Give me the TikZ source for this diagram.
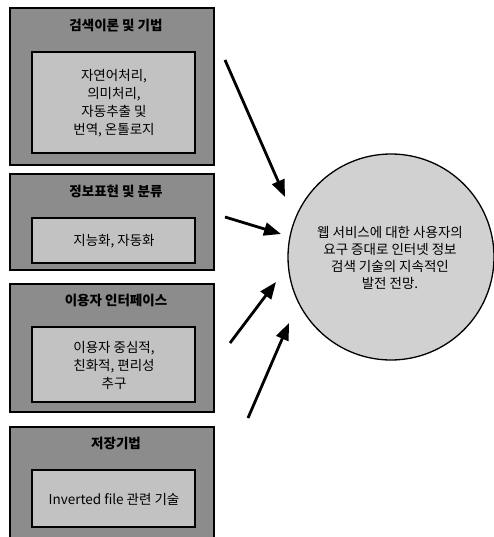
\documentclass[tikz,border=0pt]{standalone}
\usepackage{fontspec}
\setmainfont{Noto Sans CJK KR}
\usetikzlibrary{arrows.meta}
\begin{document}
\begin{tikzpicture}[x=1pt,y=-1pt,
  outerbox/.style={draw=black,line width=1.4pt,fill=black!45},
  innerbox/.style={draw=black,line width=1.3pt,fill=black!24},
  ttl/.style={font=\fontsize{13.5}{15}\selectfont\bfseries,inner sep=0pt},
  txt/.style={font=\fontsize{13.5}{18}\selectfont,align=center,inner sep=0pt},
  arr/.style={line width=2.8pt,-{Triangle[length=17pt,width=13pt]}}]
\useasboundingbox (0,0) rectangle (493,537);
% box 1
\draw[outerbox] (10,8) rectangle (214,165);
\draw[innerbox] (32,52) rectangle (195,153);
\node[ttl] (t1) at (116,26) {검색이론 및 기법};
\node[txt] (b1) at (114,103) {자연어처리,\\의미처리,\\자동추출 및\\번역, 온톨로지};
% box 2
\draw[outerbox] (10,174) rectangle (214,270);
\draw[innerbox] (32,218) rectangle (195,263);
\node[ttl] (t2) at (116,191) {정보표현 및 분류};
\node[txt] (b2) at (114,241) {지능화, 자동화};
% box 3
\draw[outerbox] (10,284) rectangle (214,412);
\draw[innerbox] (32,327) rectangle (195,402);
\node[ttl] (t3) at (116,300) {이용자 인터페이스};
\node[txt] (b3) at (114,365) {이용자 중심적,\\친화적, 편리성\\추구};
% box 4
\draw[outerbox] (10,427) rectangle (214,540);
\draw[innerbox] (32,470) rectangle (195,527);
\node[ttl] (t4) at (116,443) {저장기법};
\node[txt] (b4) at (114,499) {Inverted file 관련 기술};
% circle
\node[circle,draw=black,line width=1.3pt,fill=black!18,minimum size=206pt,inner sep=0pt] (c) at (391,257) {};
\node[txt,font=\fontsize{13.5}{17}\selectfont] (ct) at (390,258) {웹 서비스에 대한 사용자의\\요구 증대로 인터넷 정보\\검색 기술의 지속적인\\발전 전망.};
% arrows
\coordinate (a1s) at (225,60);  \coordinate (a1e) at (285,197);
\coordinate (a2s) at (225,217); \coordinate (a2e) at (281,234);
\coordinate (a3s) at (230,343); \coordinate (a3e) at (276,282);
\coordinate (a4s) at (248,418); \coordinate (a4e) at (289,323);
\draw[arr] (a1s) -- (a1e);
\draw[arr] (a2s) -- (a2e);
\draw[arr] (a3s) -- (a3e);
\draw[arr] (a4s) -- (a4e);
\end{tikzpicture}
\end{document}
